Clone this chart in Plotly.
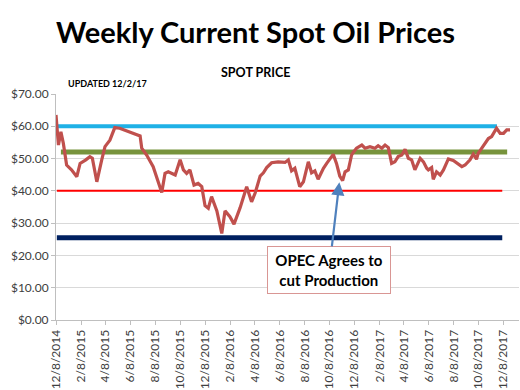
import pandas as pd
import plotly.graph_objects as go

# Weekly spot oil price (USD/bbl)
price_dates = [
    "2014-12-08", "2014-12-14", "2014-12-20", "2014-12-26", "2015-01-03", "2015-01-15",
    "2015-01-28", "2015-02-05", "2015-02-19", "2015-03-01", "2015-03-07", "2015-03-18",
    "2015-03-30", "2015-04-07", "2015-04-19", "2015-05-01", "2015-05-13", "2015-06-07",
    "2015-07-02", "2015-07-06", "2015-07-18", "2015-08-03", "2015-08-15", "2015-08-24",
    "2015-09-01", "2015-09-09", "2015-09-26", "2015-10-08", "2015-10-16", "2015-10-24",
    "2015-11-01", "2015-11-11", "2015-11-21", "2015-11-30", "2015-12-08", "2015-12-16",
    "2015-12-24", "2016-01-06", "2016-01-18", "2016-01-26", "2016-02-07", "2016-02-17",
    "2016-03-03", "2016-03-19", "2016-03-31", "2016-04-09", "2016-04-21", "2016-04-29",
    "2016-05-07", "2016-05-19", "2016-06-04", "2016-06-21", "2016-06-29", "2016-07-07",
    "2016-07-15", "2016-07-27", "2016-08-05", "2016-08-17", "2016-08-25", "2016-09-02",
    "2016-09-10", "2016-09-23", "2016-10-01", "2016-10-17", "2016-10-25", "2016-11-02",
    "2016-11-09", "2016-11-15", "2016-11-23", "2016-12-01", "2016-12-05", "2016-12-13",
    "2016-12-26", "2017-01-03", "2017-01-15", "2017-01-27", "2017-02-04", "2017-02-13",
    "2017-02-21", "2017-03-01", "2017-03-09", "2017-03-17", "2017-03-25", "2017-04-03",
    "2017-04-11", "2017-04-19", "2017-04-27", "2017-05-05", "2017-05-18", "2017-05-26",
    "2017-06-03", "2017-06-07", "2017-06-15", "2017-06-19", "2017-06-27", "2017-07-06",
    "2017-07-14", "2017-07-26", "2017-08-07", "2017-08-16", "2017-08-28", "2017-09-05",
    "2017-09-17", "2017-09-25", "2017-10-03", "2017-10-07", "2017-10-16", "2017-10-24",
    "2017-11-01", "2017-11-09", "2017-11-17", "2017-11-21", "2017-11-30", "2017-12-08",
    "2017-12-16", "2017-12-24",
]
price_values = [
    63.5, 54.2, 58.3, 54.7, 48.0, 46.5,
    44.4, 48.5, 49.6, 50.6, 50.1, 42.8,
    49.6, 53.7, 55.7, 59.6, 59.4, 58.3,
    57.0, 53.2, 51.1, 47.5, 42.8, 39.5,
    45.4, 45.9, 44.9, 49.6, 46.5, 45.4,
    46.5, 41.8, 42.3, 41.3, 35.4, 34.6,
    38.2, 33.8, 26.8, 33.8, 32.0, 29.7,
    34.8, 41.3, 36.6, 39.4, 44.6, 45.6,
    47.2, 48.7, 49.0, 48.8, 49.6, 46.2,
    47.0, 41.3, 42.8, 49.0, 45.6, 46.2,
    43.6, 47.0, 48.5, 51.3, 48.5, 44.6,
    43.2, 45.9, 46.5, 51.1, 51.9, 53.2,
    54.2, 53.2, 53.7, 53.2, 54.0, 53.2,
    54.2, 53.4, 48.5, 49.0, 50.6, 51.1,
    52.9, 50.1, 49.6, 46.5, 50.1, 49.0,
    47.0, 46.5, 47.2, 43.6, 45.9, 44.9,
    46.5, 49.9, 49.4, 48.5, 47.5, 48.0,
    49.6, 51.4, 49.8, 51.6, 53.2, 55.0,
    56.2, 56.8, 58.9, 59.4, 57.8, 57.8,
    58.9, 58.9,
]

# Horizontal price levels
level_values = [60, 52, 40, 25.5]
level_start = ["2014-11-28", "2014-12-20", "2014-12-10", "2014-12-10"]
level_end = ["2017-11-22", "2017-12-17", "2017-12-05", "2017-12-05"]
level_colors = ["#1FB1E6", "#77933C", "#FF0000", "#002060"]
level_widths = [4, 5, 2, 5]

x_tick_labels = [
    "12/8/2014", "2/8/2015", "4/8/2015", "6/8/2015", "8/8/2015", "10/8/2015",
    "12/8/2015", "2/8/2016", "4/8/2016", "6/8/2016", "8/8/2016", "10/8/2016",
    "12/8/2016", "2/8/2017", "4/8/2017", "6/8/2017", "8/8/2017", "10/8/2017",
    "12/8/2017",
]
y_ticks = [0, 10, 20, 30, 40, 50, 60, 70]
y_tick_labels = ["$0.00", "$10.00", "$20.00", "$30.00", "$40.00", "$50.00", "$60.00", "$70.00"]

# Annotation (OPEC event)
event_date = "2016-11-01"
event_value = 42.7
event_label_date = "2016-10-07"
event_label_value = 15.5

FONT = "Lato, 'Open Sans', sans-serif"

fig = go.Figure()

for v, s, e, c, w in zip(level_values, level_start, level_end, level_colors, level_widths):
    fig.add_trace(go.Scatter(
        x=[s, e], y=[v, v], mode="lines",
        line=dict(color=c, width=w), showlegend=False, hoverinfo="skip",
    ))

fig.add_trace(go.Scatter(
    x=price_dates, y=price_values, mode="lines",
    line=dict(color="#C0504D", width=3.2), showlegend=False,
))

tick_vals = pd.to_datetime(x_tick_labels, format="%m/%d/%Y")

fig.update_layout(
    width=520, height=390,
    margin=dict(l=56, r=1, t=94, b=70, autoexpand=False),
    paper_bgcolor="white", plot_bgcolor="white",
    font=dict(family=FONT, color="#404040", size=12),
    showlegend=False,
    xaxis=dict(
        type="date",
        range=["2014-12-08", "2018-01-15"],
        tickvals=tick_vals, ticktext=x_tick_labels,
        tickangle=-90, tickfont=dict(size=12, color="#404040"),
        showgrid=False, showline=True, linecolor="#BFBFBF", linewidth=1,
        ticks="outside", ticklen=4, tickcolor="#BFBFBF",
        zeroline=False,
    ),
    yaxis=dict(
        range=[0, 70], tickvals=y_ticks, ticktext=y_tick_labels,
        tickfont=dict(size=12, color="#404040"),
        showgrid=True, gridcolor="#D9D9D9", gridwidth=1,
        showline=True, linecolor="#BFBFBF", linewidth=1,
        ticks="outside", ticklen=4, tickcolor="#BFBFBF",
        zeroline=False,
    ),
)

fig.add_annotation(
    xref="paper", yref="paper", x=0.43, y=1, yshift=63,
    xanchor="center", yanchor="middle",
    text="<b>Weekly Current Spot Oil Prices</b>", showarrow=False,
    font=dict(family=FONT, size=29, color="black"),
)
fig.add_annotation(
    xref="paper", x=0.43, yref="paper", y=1, yshift=22,
    xanchor="center", yanchor="middle",
    text="<b>SPOT PRICE</b>", showarrow=False,
    font=dict(family=FONT, size=12.5, color="black"),
)
fig.add_annotation(
    xref="paper", x=0.022, yref="paper", y=1, yshift=11,
    xanchor="left", yanchor="middle",
    text="<b>UPDATED 12/2/17</b>", showarrow=False,
    font=dict(family=FONT, size=9, color="black"),
)
fig.add_annotation(
    x=event_date, y=event_value, xref="x", yref="y",
    ax=event_label_date, ay=event_label_value, axref="x", ayref="y",
    text="<b>OPEC Agrees to<br>cut Production</b>",
    showarrow=True, arrowhead=2, arrowsize=1.2, arrowwidth=2.2, arrowcolor="#4F81BD",
    font=dict(family=FONT, size=15, color="black"),
    bgcolor="white", bordercolor="#D99694", borderwidth=1,
    width=120, height=44, align="center",
)

fig.write_html(
    "out.html",
    config={"displayModeBar": False},
    post_script="document.body.style.margin='0';document.body.style.padding='0';",
)
